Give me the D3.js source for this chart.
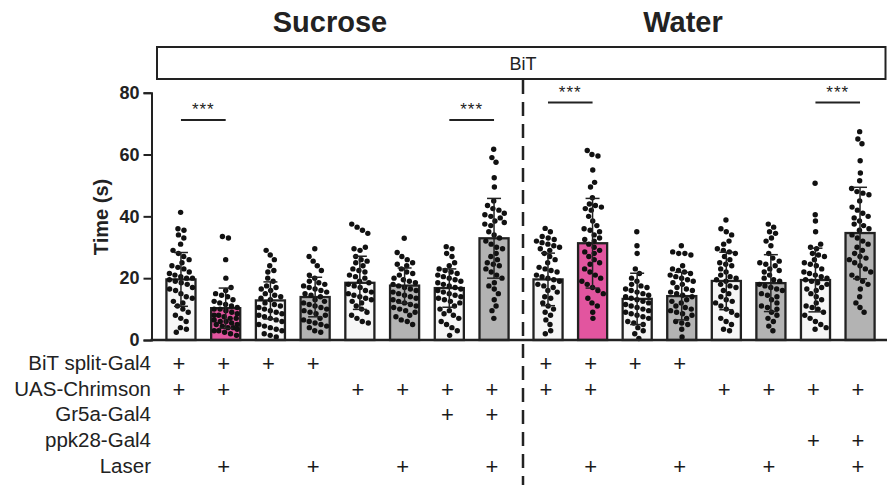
<!DOCTYPE html>
<html>
<head>
<meta charset="utf-8">
<script src="https://cdn.jsdelivr.net/npm/d3@7"></script>
<style>
  body { margin: 0; background: #fff; }
  svg { display: block; font-family: "Liberation Sans", Arial, sans-serif; }
</style>
</head>
<body>
<svg width="887" height="485"></svg>
<script>
// ---- data ----
const panels = ["Sucrose", "Water"];
const barIds = ["s1", "s2", "s3", "s4", "s5", "s6", "s7", "s8",
                "w1", "w2", "w3", "w4", "w5", "w6", "w7", "w8"];
const barPanel = ["Sucrose", "Sucrose", "Sucrose", "Sucrose", "Sucrose", "Sucrose", "Sucrose", "Sucrose",
                  "Water", "Water", "Water", "Water", "Water", "Water", "Water", "Water"];
const barKind = ["white", "pink", "white", "gray", "white", "gray", "white", "gray",
                 "white", "pink", "white", "gray", "white", "gray", "white", "gray"];
const means = [19.6, 10.3, 12.8, 13.9, 18.5, 17.6, 16.8, 32.9,
               19.6, 31.3, 13.3, 14.2, 19.1, 18.4, 19.4, 34.6];
const sds = [8.7, 6.5, 6.0, 6.4, 8.6, 5.7, 6.2, 12.9,
             8.5, 14.5, 8.3, 7.7, 9.3, 9.2, 10.3, 14.8];

const points = [
  [41.3, 36, 35.5, 34, 33, 31, 29, 28, 27, 26, 25, 24, 23.5, 23, 22, 21.5, 21, 20.5, 20, 20, 19.5, 19, 18.5, 18, 17, 16.5, 16, 15, 14, 13.5, 12.5, 12, 11, 10, 9, 8, 7, 6, 4, 3.5, 2.5],
  [33.5, 33, 26, 20, 17, 16, 15, 14.5, 14, 13, 12.5, 12, 11.5, 11, 10.5, 10, 10, 9.5, 9, 8.5, 8, 8, 7.5, 7, 7, 6.5, 6, 6, 5.5, 5, 5, 4.5, 4, 4, 3.5, 3, 3, 2.5, 2, 1.5],
  [29, 27.5, 26, 24, 22.5, 22, 20, 19, 17.5, 17, 16.5, 16, 15, 14.5, 14, 13.5, 13, 12, 11.5, 11, 10.5, 10, 9.5, 9, 8.5, 8, 7.5, 7, 6.5, 6, 5, 4.5, 4, 3.5, 3, 2, 1.5, 1],
  [29.5, 27, 25.5, 24, 22.5, 21, 20, 19, 18.5, 18, 17.5, 17, 16.5, 16, 15.5, 15, 14.5, 14, 13, 12.5, 12, 11.5, 11, 10.5, 10, 9.5, 9, 8.5, 8, 7, 6.5, 6, 5.5, 5, 4.5, 4, 3, 2.5],
  [37.5, 36.5, 35.5, 34.5, 30, 29.5, 29, 27, 26, 25.5, 25, 24, 23, 22.5, 22, 21, 20.5, 20, 19, 18.5, 18, 17.5, 17, 16, 15.5, 15, 14.5, 14, 13.5, 13, 12.5, 12, 11, 10, 9, 8, 7, 6, 5.5],
  [32.9, 28.3, 27, 26, 25, 24.5, 24, 23, 22, 21.5, 21, 20, 19.5, 19, 18.5, 18, 17.5, 17, 16.5, 16, 15.5, 15, 14.5, 14, 13.5, 13, 12.5, 12, 11.5, 11, 10.5, 10, 9.5, 9, 8, 7.5, 6.5, 6, 5],
  [30.2, 29.5, 28, 27, 25, 24, 23, 22.5, 22, 21.5, 21, 20.5, 20, 19.5, 19, 18.5, 18, 17.5, 17, 16.5, 16, 15.5, 15, 14.5, 14, 13.5, 13, 12.5, 12, 11, 10, 9.5, 8.5, 8, 7, 6, 5, 4, 3, 1.5],
  [61.7, 59, 57.5, 52.5, 49.5, 45, 43.5, 42.5, 42, 41, 40.5, 40, 39.5, 38.5, 38, 37.5, 37, 35, 34, 33, 32, 31, 30, 29.5, 28, 27, 26, 25, 24.5, 24, 23, 22, 21, 20, 18.5, 17.5, 16.5, 15, 13, 11, 9.5, 7],
  [36.1, 35, 33.5, 33, 32.5, 32, 31.5, 31, 30.5, 30, 29.5, 29, 28, 27, 26, 25, 23.5, 23, 22.5, 22, 21, 20.5, 20, 19.5, 19, 18, 17.5, 17, 16, 15.5, 14, 13.5, 12, 11, 10, 9, 8, 6.5, 5, 3, 2],
  [61.3, 60, 59.5, 55, 51, 49.5, 46, 44, 43.5, 43, 42.5, 42, 40, 38.5, 37, 36, 35.5, 35, 34, 33, 32.5, 32, 31, 30, 29, 28.5, 28, 27, 26, 25, 24.5, 23, 22, 21, 20, 19, 18, 17, 16, 15, 13.5, 12, 11, 9, 7],
  [35, 30.5, 28, 23, 21.5, 20, 19, 18, 17.5, 17, 16.5, 16, 15.5, 15, 14.5, 14, 13.5, 13, 12.5, 12, 11.5, 11, 10.5, 10, 9.5, 9, 8.5, 8, 7.5, 7, 6, 5.5, 5, 4, 3, 2, 0.5],
  [30.5, 28.5, 28, 28, 27.5, 24, 23, 22.5, 22, 21.5, 21, 20.5, 20, 19.5, 19, 18.5, 18, 17, 16.5, 16, 15.5, 15, 14.5, 14, 13, 12.5, 12, 11, 10.5, 10, 9.5, 9, 8.5, 8, 7, 6, 5.5, 5, 3.5, 1],
  [38.8, 36, 35, 34, 32, 31, 29.5, 29, 28.5, 28, 27, 26, 25, 24.5, 24, 23, 22, 21, 20.5, 20, 19.5, 19, 18, 17.5, 17, 16, 15, 14, 13, 12.5, 12, 11, 10, 9, 8, 7, 6, 5, 3.5, 3],
  [37.5, 36.5, 35, 34.5, 33, 32, 30.5, 28, 26.5, 25.5, 25, 24.5, 24, 23, 22.5, 22, 21, 20, 19.5, 19, 18, 17.5, 17, 16.5, 16, 15, 14.5, 14, 13, 12, 11, 10.5, 10, 9, 8, 7, 6, 4.5, 3],
  [50.7, 40.5, 38.5, 35, 31, 30, 29.5, 28, 27.5, 27, 26, 25, 24.5, 24, 23, 22, 21.5, 21, 20.5, 20, 19.5, 19, 18.5, 18, 17, 16.5, 16, 15, 14, 13, 12, 11, 10.5, 10, 9, 8, 7, 6, 5, 4, 3.5],
  [67.4, 65, 63.5, 58, 54, 51.5, 49, 48, 47.5, 47, 45, 43, 42, 41, 40, 39.5, 38.5, 37.5, 37, 36, 35.5, 34, 33, 32, 31, 30, 29, 28, 27, 26.5, 26, 25, 24, 23, 22, 21, 20, 19, 18, 16.5, 14, 12, 10.5, 9]
];

// genotype table below the axis (1 = "+")
const rowLabels = ["BiT split-Gal4", "UAS-Chrimson", "Gr5a-Gal4", "ppk28-Gal4", "Laser"];
const rowMarks = [
  [1, 1, 1, 1, 0, 0, 0, 0,  1, 1, 1, 1, 0, 0, 0, 0],
  [1, 1, 0, 0, 1, 1, 1, 1,  1, 1, 0, 0, 1, 1, 1, 1],
  [0, 0, 0, 0, 0, 0, 1, 1,  0, 0, 0, 0, 0, 0, 0, 0],
  [0, 0, 0, 0, 0, 0, 0, 0,  0, 0, 0, 0, 0, 0, 1, 1],
  [0, 1, 0, 1, 0, 1, 0, 1,  0, 1, 0, 1, 0, 1, 0, 1]
];

// significance brackets: [from bar, to bar, height in s]
const sigPairs = [["s1", "s2", 71.2], ["s7", "s8", 71.2], ["w1", "w2", 76.8], ["w7", "w8", 76.8]];
const sigText = "***";
const boxLabel = "BiT";
const yTicks = [0, 20, 40, 60, 80];

// ---- layout ----
const fillColor = { white: "#f6f6f6", pink: "#e2559f", gray: "#b3b3b3" };
const ink = "#222";
const axisX = 151.5, axisY = 340;

const svg = d3.select("svg");

const yScale = d3.scaleLinear().domain([0, 80]).range([axisY, 92.7]);

const xSucrose = d3.scaleBand().domain(barIds.slice(0, 8))
  .range([158.6, 516.4]).paddingInner(0.35).paddingOuter(0.175);
const xWater = d3.scaleBand().domain(barIds.slice(8))
  .range([525.7, 882.3]).paddingInner(0.35).paddingOuter(0.175);
const xBand = id => id[0] === "s" ? xSucrose : xWater;
const xCenter = id => xBand(id)(id) + xBand(id).bandwidth() / 2;
const barW = xSucrose.bandwidth();

// panel titles
const titleX = { Sucrose: 330, Water: 683 };
svg.selectAll(".panel-title")
  .data(panels)
  .enter()
  .append("text")
  .attr("x", d => titleX[d])
  .attr("y", 31.5)
  .attr("text-anchor", "middle")
  .attr("font-size", 29)
  .attr("font-weight", "bold")
  .attr("fill", ink)
  .text(d => d);

// BiT box
svg.append("rect")
  .attr("x", 157).attr("y", 47)
  .attr("width", 728.5).attr("height", 32)
  .attr("fill", "#fff").attr("stroke", ink).attr("stroke-width", 2);
svg.append("text")
  .attr("x", 523).attr("y", 69.5)
  .attr("text-anchor", "middle")
  .attr("font-size", 18)
  .attr("fill", ink)
  .text(boxLabel);

// dashed divider
svg.append("line")
  .attr("x1", 523).attr("x2", 523)
  .attr("y1", 80).attr("y2", 485)
  .attr("stroke", ink).attr("stroke-width", 2.5)
  .attr("stroke-dasharray", "14,8");

// bars
const bars = barIds.map((id, i) => ({ id, kind: barKind[i], mean: means[i], sd: sds[i], pts: points[i] }));

svg.selectAll(".bar")
  .data(bars)
  .enter()
  .append("rect")
  .attr("class", "bar")
  .attr("x", d => xBand(d.id)(d.id))
  .attr("y", d => yScale(d.mean))
  .attr("width", barW)
  .attr("height", d => axisY - yScale(d.mean))
  .attr("fill", d => fillColor[d.kind])
  .attr("stroke", ink)
  .attr("stroke-width", 2.3);

// dots: simple beeswarm, y fixed at value, x pushed apart by collision
const radius = 2.7;
bars.forEach(b => {
  const cx = xCenter(b.id);
  const nodes = b.pts.map((v, i) => ({ v, x: cx + ((i % 5) - 2) * 2.5, fy: yScale(v) }));
  const sim = d3.forceSimulation(nodes)
    .force("x", d3.forceX(cx).strength(0.04))
    .force("collide", d3.forceCollide(radius + 0.4))
    .stop();
  for (let k = 0; k < 150; k++) {
    sim.tick();
    nodes.forEach(n => { n.x = Math.max(cx - barW / 2 + 3, Math.min(cx + barW / 2 - 3, n.x)); });
  }
  svg.append("g")
    .selectAll("circle")
    .data(nodes)
    .enter()
    .append("circle")
    .attr("cx", d => d.x)
    .attr("cy", d => d.fy)
    .attr("r", radius)
    .attr("fill", "#111");
});

// error bars (mean ± SD)
const errG = svg.selectAll(".err")
  .data(bars)
  .enter()
  .append("g")
  .attr("class", "err")
  .attr("stroke", ink)
  .attr("stroke-width", 1.5);
errG.append("line")
  .attr("x1", d => xCenter(d.id)).attr("x2", d => xCenter(d.id))
  .attr("y1", d => yScale(Math.max(0, d.mean - d.sd)))
  .attr("y2", d => yScale(d.mean + d.sd));
errG.append("line")
  .attr("x1", d => xCenter(d.id) - 7).attr("x2", d => xCenter(d.id) + 7)
  .attr("y1", d => yScale(d.mean + d.sd)).attr("y2", d => yScale(d.mean + d.sd));
errG.append("line")
  .attr("x1", d => xCenter(d.id) - 7).attr("x2", d => xCenter(d.id) + 7)
  .attr("y1", d => yScale(Math.max(0, d.mean - d.sd))).attr("y2", d => yScale(Math.max(0, d.mean - d.sd)));

// y axis
const yAxis = d3.axisLeft(yScale).tickValues(yTicks).tickSize(8).tickPadding(4);
const yG = svg.append("g")
  .attr("transform", `translate(${axisX},0)`)
  .call(yAxis);
yG.select(".domain").attr("stroke", ink).attr("stroke-width", 2);
yG.selectAll(".tick line").attr("stroke", ink).attr("stroke-width", 2);
yG.selectAll(".tick text")
  .attr("font-family", "Liberation Sans, Arial, sans-serif")
  .attr("font-size", 18)
  .attr("font-weight", "bold")
  .attr("fill", ink);

// x baseline
svg.append("line")
  .attr("x1", axisX - 1).attr("x2", 887)
  .attr("y1", axisY).attr("y2", axisY)
  .attr("stroke", ink).attr("stroke-width", 2.5);

// y axis title
svg.append("text")
  .attr("transform", "translate(108,217) rotate(-90)")
  .attr("text-anchor", "middle")
  .attr("font-size", 20)
  .attr("font-weight", "bold")
  .attr("fill", ink)
  .text("Time (s)");

// significance brackets
sigPairs.forEach(([a, b, h]) => {
  svg.append("line")
    .attr("x1", xCenter(a)).attr("x2", xCenter(b))
    .attr("y1", yScale(h)).attr("y2", yScale(h))
    .attr("stroke", ink).attr("stroke-width", 2);
  svg.append("text")
    .attr("x", (xCenter(a) + xCenter(b)) / 2)
    .attr("y", yScale(h) - 5)
    .attr("text-anchor", "middle")
    .attr("font-size", 17)
    .attr("letter-spacing", 1)
    .attr("fill", ink)
    .text(sigText);
});

// genotype table
const rowY = [363, 389, 414, 440, 466];
rowLabels.forEach((lab, r) => {
  svg.append("text")
    .attr("x", 151)
    .attr("y", rowY[r])
    .attr("dy", "0.35em")
    .attr("text-anchor", "end")
    .attr("font-size", 20.5)
    .attr("fill", ink)
    .text(lab);
  svg.append("g")
    .selectAll("text")
    .data(barIds.filter((id, i) => rowMarks[r][i]))
    .enter()
    .append("text")
    .attr("x", d => xCenter(d) - 2)
    .attr("y", rowY[r])
    .attr("dy", "0.35em")
    .attr("text-anchor", "middle")
    .attr("font-size", 22)
    .attr("fill", "#1a1a1a")
    .text("+");
});
</script>
</body>
</html>
